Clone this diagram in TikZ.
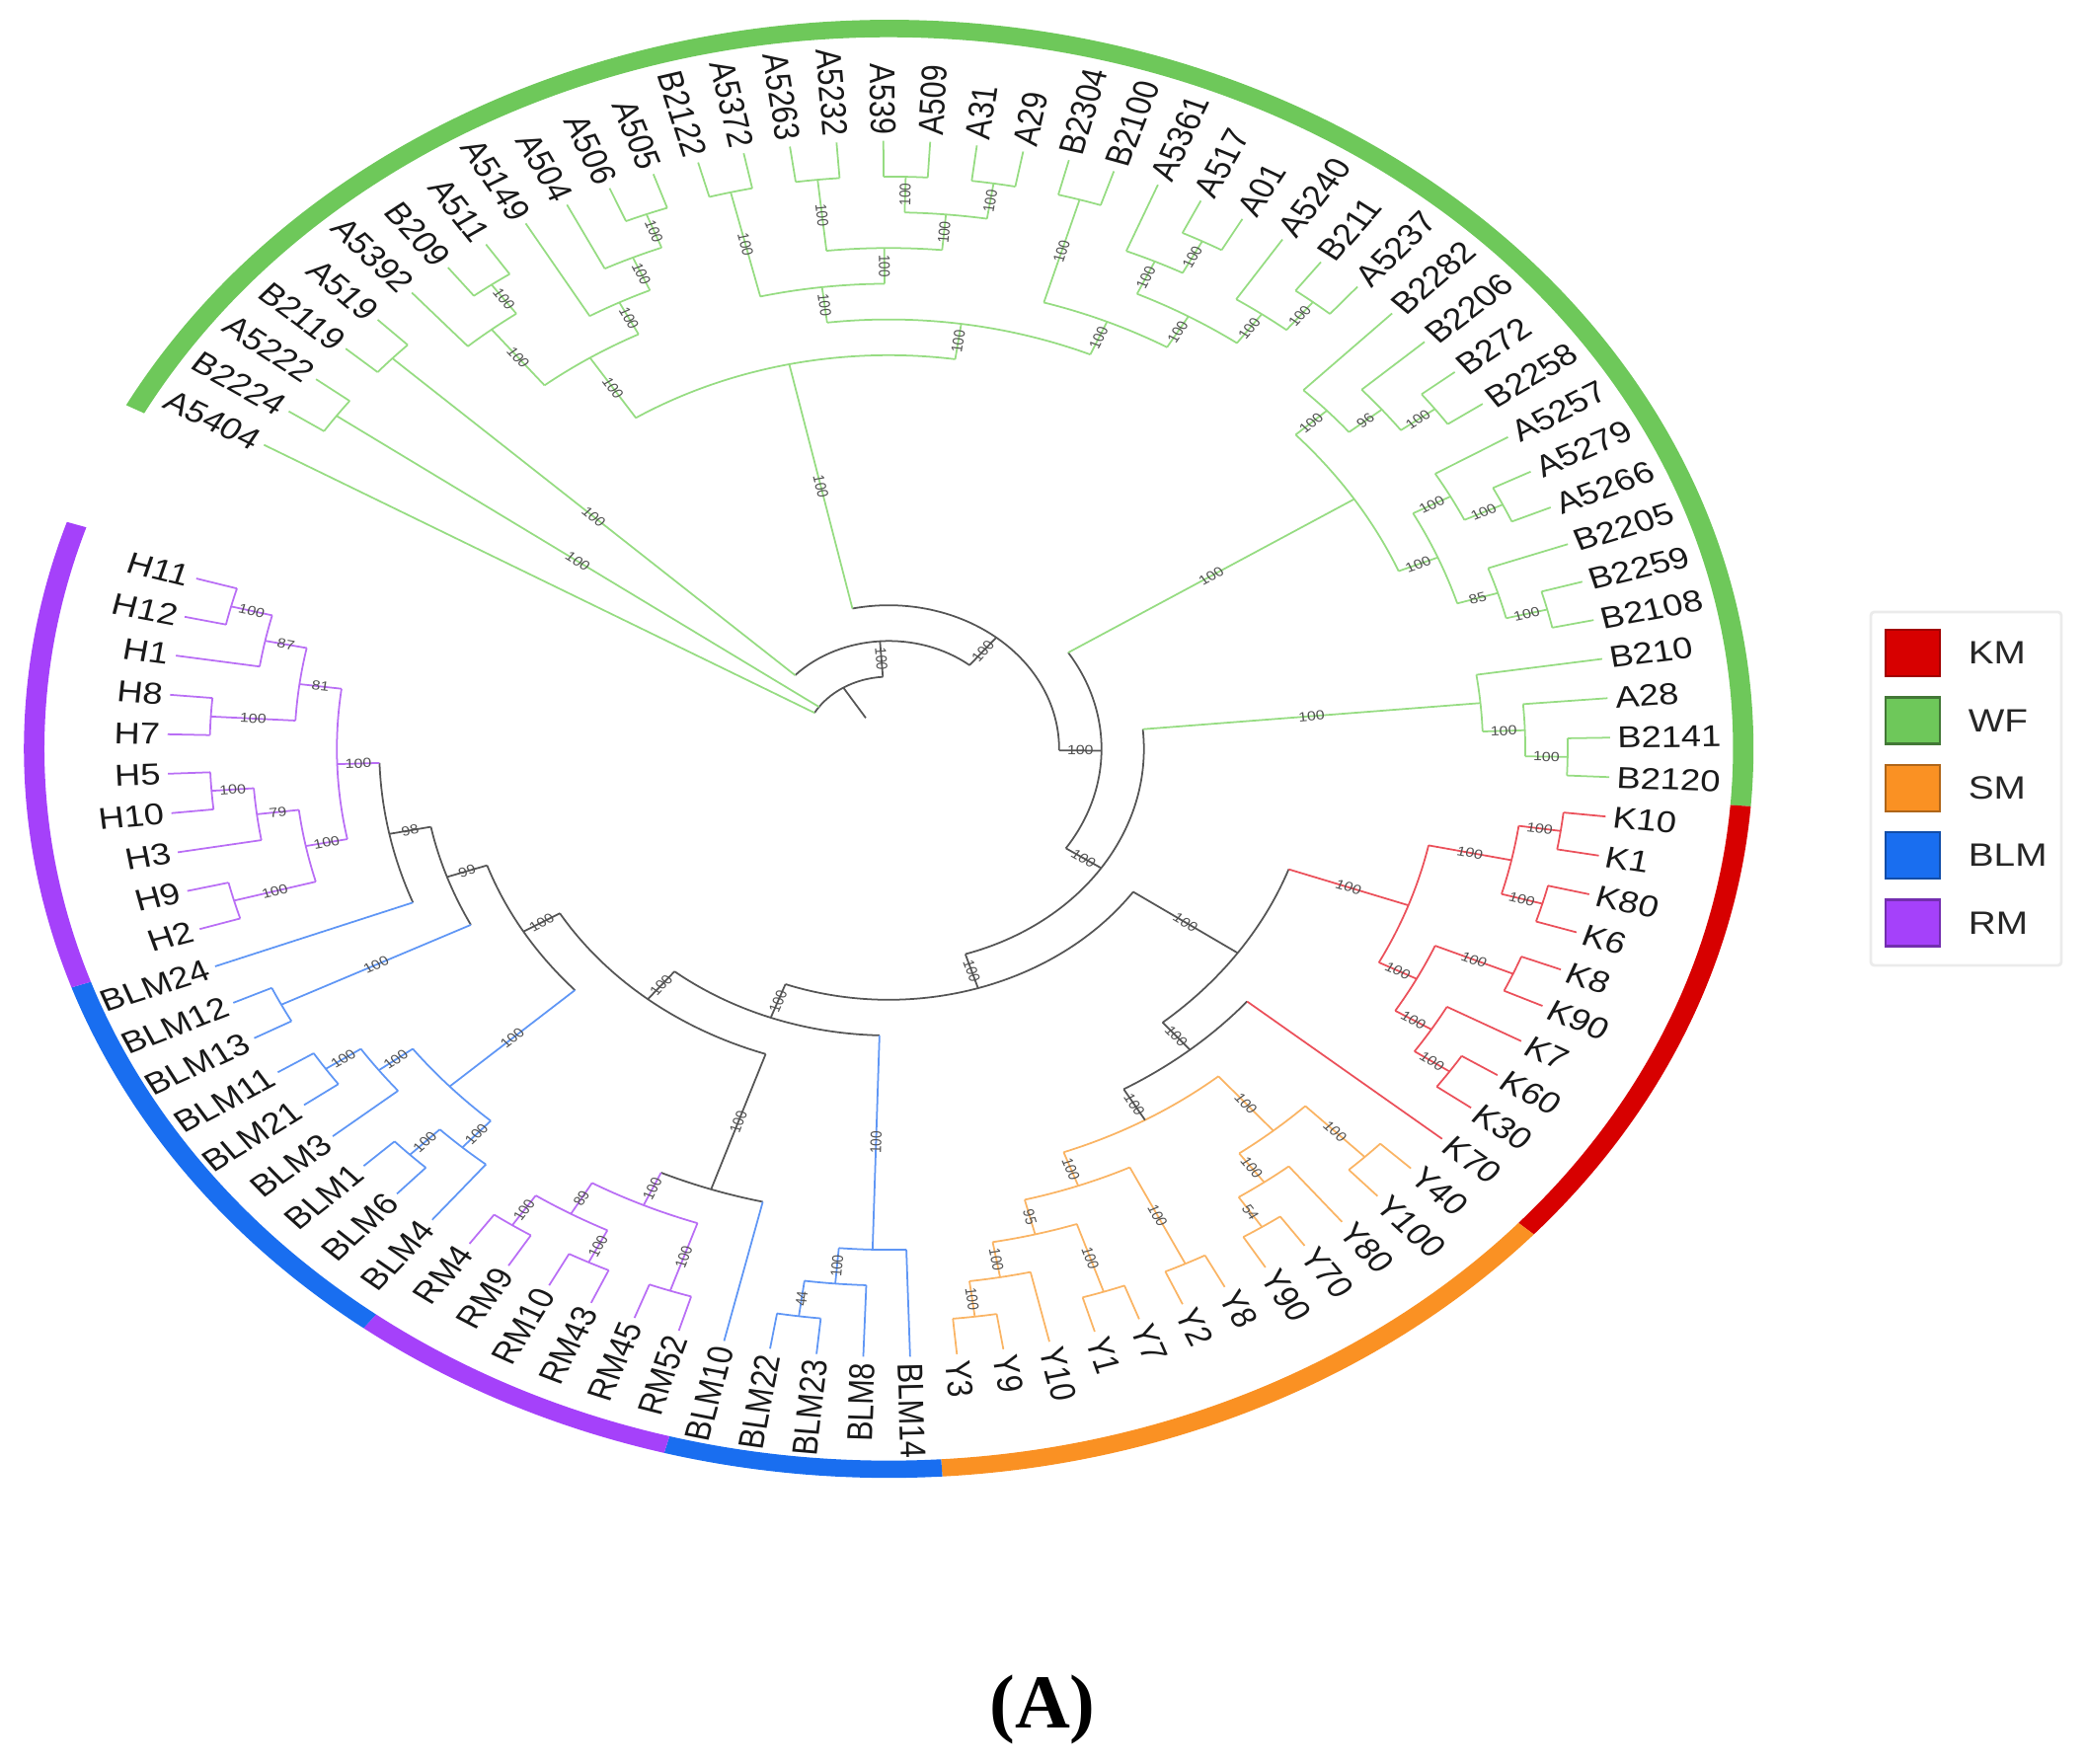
\documentclass[tikz,border=0pt]{standalone}
\usepackage{fontspec}
\setmainfont{Liberation Sans}
\newfontfamily\capfont{Liberation Serif}
\definecolor{wfb}{RGB}{150,220,130}
\definecolor{kmb}{RGB}{235,80,90}
\definecolor{smb}{RGB}{250,180,100}
\definecolor{blmb}{RGB}{95,150,245}
\definecolor{rmb}{RGB}{185,110,245}
\definecolor{grb}{RGB}{85,85,85}
\definecolor{wfr}{RGB}{110,200,90}
\definecolor{kmr}{RGB}{215,0,0}
\definecolor{smr}{RGB}{250,145,35}
\definecolor{blmr}{RGB}{25,110,240}
\definecolor{rmr}{RGB}{165,65,250}
\definecolor{labc}{RGB}{25,25,25}
\definecolor{supc}{RGB}{80,80,80}
\newcommand\RLnum{6.16}
\newcommand\dstep{0.3619}
\newcommand\RLab{6.20}
\newcommand\Rout{7.385cm}
\newcommand\Rin{7.21cm}
\newcommand\setnode[5]{%
 \expandafter\xdef\csname a@#1\endcsname{#2}%
 \expandafter\xdef\csname r@#1\endcsname{#3}%
 \expandafter\xdef\csname c@#1\endcsname{#4}%
 \expandafter\xdef\csname s@#1\endcsname{#5}}
\newcommand\leaf[3]{%
 \pgfmathsetmacro\Tang{150-3.7234*#2}%
 \setnode{#1}{\Tang}{\RLnum}{#3}{}%
 \pgfmathtruncatemacro\Tflip{(\Tang>90 || \Tang<-90) ? 1 : 0}%
 \ifnum\Tflip=1
   \pgfmathsetmacro\Trot{\Tang+180}%
   \node[leaflab, anchor=east, rotate=\Trot] (#1) at (\Tang:\RLab cm) {#1};%
 \else
   \node[leaflab, anchor=west, rotate=\Tang] (#1) at (\Tang:\RLab cm) {#1};%
 \fi}
\newcommand\stem[2]{%
 \pgfmathsetmacro\Sa{\csname a@#1\endcsname}%
 \pgfmathsetmacro\Sr{\csname r@#1\endcsname}%
 \edef\Scol{\csname c@#1\endcsname}%
 \edef\Ssup{\csname s@#1\endcsname}%
 \draw[br, \Scol] (\Sa:#2 cm) -- (\Sa:\Sr cm);%
 \ifx\Ssup\empty\else
   \pgfmathsetmacro\Sm{(#2+\Sr)/2}%
   \pgfmathtruncatemacro\Sflip{(\Sa>90 || \Sa<-90) ? 1 : 0}%
   \ifnum\Sflip=1 \pgfmathsetmacro\Srot{\Sa+180}\else\pgfmathsetmacro\Srot{\Sa}\fi
   \node[sup, rotate=\Srot] (sup-#1) at (\Sa:\Sm cm) {\Ssup};%
 \fi}
\newcommand\inode[7]{%
 \pgfmathsetmacro\Ia{\csname a@#2\endcsname}%
 \pgfmathsetmacro\Ib{\csname a@#3\endcsname}%
 \pgfmathsetmacro\Im{(\Ia+\Ib)/2}%
 \pgfmathsetmacro\Ir{\RLnum-\dstep*#4}%
 \draw[br, #5] (\Ia:\Ir cm) arc[start angle=\Ia, end angle=\Ib, radius=\Ir cm];%
 \stem{#2}{\Ir}\stem{#3}{\Ir}%
 \coordinate (#1) at (\Im:\Ir cm);%
 \setnode{#1}{\Im}{\Ir}{#6}{#7}}
\newcommand\ringseg[3]{%
 \fill[#3] (#1:\Rout) arc[start angle=#1, end angle=#2, radius=\Rout] -- (#2:\Rin) arc[start angle=#2, end angle=#1, radius=\Rin] -- cycle;}
\tikzset{
 br/.style={line width=0.5pt},
 leaflab/.style={font=\fontsize{8.7}{10}\selectfont, text=labc, inner sep=0.5pt, transform shape},
 sup/.style={font=\fontsize{3.8}{4}\selectfont, text=supc, inner sep=0pt, transform shape},
 legsq/.style={minimum width=0.55cm, minimum height=0.47cm, inner sep=0pt, line width=0.6pt},
 legtext/.style={font=\fontsize{9.3}{10}\selectfont, text=black!85, anchor=west, xscale=1.186, inner sep=0pt},
}
\begin{document}
\begin{tikzpicture}
\useasboundingbox (0,0) rectangle (21.13,17.87);
\begin{scope}[shift={(9.002,10.283)}, xscale=1.1862]
% colour ring
\ringseg{151.86}{-4.52}{wfr}
\ringseg{-4.52}{-41.76}{kmr}
\ringseg{-41.76}{-86.44}{smr}
\ringseg{-86.44}{-105.05}{blmr}
\ringseg{-105.05}{-127.39}{rmr}
\ringseg{-127.39}{-160.90}{blmr}
\ringseg{-160.90}{-198.14}{rmr}
% leaves
\leaf{A5404}{0}{wfb}\leaf{B2224}{1}{wfb}\leaf{A5222}{2}{wfb}\leaf{B2119}{3}{wfb}
\leaf{A519}{4}{wfb}\leaf{A5392}{5}{wfb}\leaf{B209}{6}{wfb}\leaf{A511}{7}{wfb}
\leaf{A5149}{8}{wfb}\leaf{A504}{9}{wfb}\leaf{A506}{10}{wfb}\leaf{A505}{11}{wfb}
\leaf{B2122}{12}{wfb}\leaf{A5372}{13}{wfb}\leaf{A5263}{14}{wfb}\leaf{A5232}{15}{wfb}
\leaf{A539}{16}{wfb}\leaf{A509}{17}{wfb}\leaf{A31}{18}{wfb}\leaf{A29}{19}{wfb}
\leaf{B2304}{20}{wfb}\leaf{B2100}{21}{wfb}\leaf{A5361}{22}{wfb}\leaf{A517}{23}{wfb}
\leaf{A01}{24}{wfb}\leaf{A5240}{25}{wfb}\leaf{B211}{26}{wfb}\leaf{A5237}{27}{wfb}
\leaf{B2282}{28}{wfb}\leaf{B2206}{29}{wfb}\leaf{B272}{30}{wfb}\leaf{B2258}{31}{wfb}
\leaf{A5257}{32}{wfb}\leaf{A5279}{33}{wfb}\leaf{A5266}{34}{wfb}\leaf{B2205}{35}{wfb}
\leaf{B2259}{36}{wfb}\leaf{B2108}{37}{wfb}\leaf{B210}{38}{wfb}\leaf{A28}{39}{wfb}
\leaf{B2141}{40}{wfb}\leaf{B2120}{41}{wfb}
\leaf{K10}{42}{kmb}\leaf{K1}{43}{kmb}\leaf{K80}{44}{kmb}\leaf{K6}{45}{kmb}
\leaf{K8}{46}{kmb}\leaf{K90}{47}{kmb}\leaf{K7}{48}{kmb}\leaf{K60}{49}{kmb}
\leaf{K30}{50}{kmb}\leaf{K70}{51}{kmb}
\leaf{Y40}{52}{smb}\leaf{Y100}{53}{smb}\leaf{Y80}{54}{smb}\leaf{Y70}{55}{smb}
\leaf{Y90}{56}{smb}\leaf{Y8}{57}{smb}\leaf{Y2}{58}{smb}\leaf{Y7}{59}{smb}
\leaf{Y1}{60}{smb}\leaf{Y10}{61}{smb}\leaf{Y9}{62}{smb}\leaf{Y3}{63}{smb}
\leaf{BLM14}{64}{blmb}\leaf{BLM8}{65}{blmb}\leaf{BLM23}{66}{blmb}\leaf{BLM22}{67}{blmb}
\leaf{BLM10}{68}{blmb}
\leaf{RM52}{69}{rmb}\leaf{RM45}{70}{rmb}\leaf{RM43}{71}{rmb}\leaf{RM10}{72}{rmb}
\leaf{RM9}{73}{rmb}\leaf{RM4}{74}{rmb}
\leaf{BLM4}{75}{blmb}\leaf{BLM6}{76}{blmb}\leaf{BLM1}{77}{blmb}\leaf{BLM3}{78}{blmb}
\leaf{BLM21}{79}{blmb}\leaf{BLM11}{80}{blmb}\leaf{BLM13}{81}{blmb}\leaf{BLM12}{82}{blmb}
\leaf{BLM24}{83}{blmb}
\leaf{H2}{84}{rmb}\leaf{H9}{85}{rmb}\leaf{H3}{86}{rmb}\leaf{H10}{87}{rmb}
\leaf{H5}{88}{rmb}\leaf{H7}{89}{rmb}\leaf{H8}{90}{rmb}\leaf{H1}{91}{rmb}
\leaf{H12}{92}{rmb}\leaf{H11}{93}{rmb}
% WF clades
\inode{n1}{B2224}{A5222}{1}{wfb}{wfb}{100}
\inode{n2}{B2119}{A519}{1}{wfb}{wfb}{100}
\inode{n3}{B209}{A511}{1}{wfb}{wfb}{100}
\inode{n4}{A5392}{n3}{2}{wfb}{wfb}{100}
\inode{n5}{A506}{A505}{1}{wfb}{wfb}{100}
\inode{n6}{A504}{n5}{2}{wfb}{wfb}{100}
\inode{n7}{A5149}{n6}{3}{wfb}{wfb}{100}
\inode{n8}{n4}{n7}{4}{wfb}{wfb}{100}
\inode{n9}{B2122}{A5372}{1}{wfb}{wfb}{100}
\inode{n10}{A5263}{A5232}{1}{wfb}{wfb}{100}
\inode{n11}{A539}{A509}{1}{wfb}{wfb}{100}
\inode{n12}{A31}{A29}{1}{wfb}{wfb}{100}
\inode{n13}{n11}{n12}{2}{wfb}{wfb}{100}
\inode{n14}{n10}{n13}{3}{wfb}{wfb}{100}
\inode{n15}{n9}{n14}{4}{wfb}{wfb}{100}
\inode{n17}{B2304}{B2100}{1}{wfb}{wfb}{100}
\inode{n18}{A517}{A01}{1}{wfb}{wfb}{100}
\inode{n19}{A5361}{n18}{2}{wfb}{wfb}{100}
\inode{n20}{B211}{A5237}{1}{wfb}{wfb}{100}
\inode{n21}{A5240}{n20}{2}{wfb}{wfb}{100}
\inode{n22}{n19}{n21}{3}{wfb}{wfb}{100}
\inode{n23}{n17}{n22}{4}{wfb}{wfb}{100}
\inode{n24}{n15}{n23}{5}{wfb}{wfb}{100}
\inode{T}{n8}{n24}{6}{wfb}{wfb}{100}
\inode{n25}{B272}{B2258}{1}{wfb}{wfb}{100}
\inode{n26}{B2206}{n25}{2}{wfb}{wfb}{96}
\inode{n27}{B2282}{n26}{3}{wfb}{wfb}{100}
\inode{n28}{A5279}{A5266}{1}{wfb}{wfb}{100}
\inode{n29}{A5257}{n28}{2}{wfb}{wfb}{100}
\inode{n30}{B2259}{B2108}{1}{wfb}{wfb}{100}
\inode{n31}{B2205}{n30}{2}{wfb}{wfb}{85}
\inode{n32}{n29}{n31}{3}{wfb}{wfb}{100}
\inode{n33}{n27}{n32}{4}{wfb}{wfb}{100}
\inode{n34}{B2141}{B2120}{1}{wfb}{wfb}{100}
\inode{n35}{A28}{n34}{2}{wfb}{wfb}{100}
\inode{n36}{B210}{n35}{3}{wfb}{wfb}{100}
% KM
\inode{k1}{K10}{K1}{1}{kmb}{kmb}{100}
\inode{k2}{K80}{K6}{1}{kmb}{kmb}{100}
\inode{k3}{k1}{k2}{2}{kmb}{kmb}{100}
\inode{k4}{K8}{K90}{1}{kmb}{kmb}{100}
\inode{k5}{K60}{K30}{1}{kmb}{kmb}{100}
\inode{k6}{K7}{k5}{2}{kmb}{kmb}{100}
\inode{k7}{k4}{k6}{3}{kmb}{kmb}{100}
\inode{Kc}{k3}{k7}{4}{kmb}{kmb}{100}
% SM
\inode{s1}{Y40}{Y100}{1}{smb}{smb}{100}
\inode{s2}{Y70}{Y90}{1}{smb}{smb}{54}
\inode{s3}{Y80}{s2}{2}{smb}{smb}{100}
\inode{s4}{s1}{s3}{3}{smb}{smb}{100}
\inode{s5}{Y8}{Y2}{1}{smb}{smb}{100}
\inode{s6}{Y7}{Y1}{1}{smb}{smb}{100}
\inode{s7}{Y9}{Y3}{1}{smb}{smb}{100}
\inode{s8}{Y10}{s7}{2}{smb}{smb}{100}
\inode{s9}{s6}{s8}{3}{smb}{smb}{95}
\inode{s10}{s5}{s9}{4}{smb}{smb}{100}
\inode{s11}{s4}{s10}{5}{smb}{grb}{100}
\inode{S1}{K70}{s11}{6}{grb}{grb}{100}
\inode{KS}{Kc}{S1}{7}{grb}{grb}{100}
% BLM / RM
\inode{g1}{BLM23}{BLM22}{1}{blmb}{blmb}{44}
\inode{g2}{BLM8}{g1}{2}{blmb}{blmb}{100}
\inode{g3}{BLM14}{g2}{3}{blmb}{blmb}{100}
\inode{r1}{RM52}{RM45}{1}{rmb}{rmb}{100}
\inode{r2}{RM43}{RM10}{1}{rmb}{rmb}{100}
\inode{r3}{RM9}{RM4}{1}{rmb}{rmb}{100}
\inode{r4}{r2}{r3}{2}{rmb}{rmb}{89}
\inode{RMc}{r1}{r4}{3}{rmb}{rmb}{100}
\inode{BR}{BLM10}{RMc}{4}{grb}{grb}{100}
\inode{b1}{BLM6}{BLM1}{1}{blmb}{blmb}{100}
\inode{b2}{BLM4}{b1}{2}{blmb}{blmb}{100}
\inode{b3}{BLM21}{BLM11}{1}{blmb}{blmb}{100}
\inode{b4}{BLM3}{b3}{2}{blmb}{blmb}{100}
\inode{b5}{b2}{b4}{3}{blmb}{blmb}{100}
\inode{b6}{BLM13}{BLM12}{1}{blmb}{blmb}{100}
\inode{h7}{H2}{H9}{1}{rmb}{rmb}{100}
\inode{h5}{H10}{H5}{1}{rmb}{rmb}{100}
\inode{h6}{H3}{h5}{2}{rmb}{rmb}{79}
\inode{h8}{h7}{h6}{3}{rmb}{rmb}{100}
\inode{h3}{H7}{H8}{1}{rmb}{rmb}{100}
\inode{h1}{H12}{H11}{1}{rmb}{rmb}{100}
\inode{h2}{H1}{h1}{2}{rmb}{rmb}{87}
\inode{h4}{h3}{h2}{3}{rmb}{rmb}{81}
\inode{Hc}{h8}{h4}{4}{rmb}{rmb}{100}
% backbone
\inode{L1}{BLM24}{Hc}{5}{grb}{grb}{98}
\inode{L2}{b6}{L1}{6}{grb}{grb}{99}
\inode{L3}{b5}{L2}{7}{grb}{grb}{100}
\inode{L4}{BR}{L3}{8}{grb}{grb}{100}
\inode{L5}{g3}{L4}{9}{grb}{grb}{100}
\inode{Xt}{KS}{L5}{10}{grb}{grb}{100}
\inode{Xs}{n36}{Xt}{11}{grb}{grb}{100}
\inode{Xr}{n33}{Xs}{12}{grb}{grb}{100}
\inode{X}{T}{Xr}{13}{grb}{grb}{100}
\inode{Y}{n2}{X}{14}{grb}{grb}{100}
% root
\pgfmathsetmacro\Ia{\csname a@A5404\endcsname}
\pgfmathsetmacro\Ib{\csname a@Y\endcsname}
\pgfmathsetmacro\Im{(\Ia+\Ib)/2}
\pgfmathsetmacro\Ir{\RLnum-\dstep*15}
\pgfmathsetmacro\Is{\RLnum-\dstep*16}
\draw[br, grb] (\Ia:\Ir cm) arc[start angle=\Ia, end angle=\Ib, radius=\Ir cm];
\stem{A5404}{\Ir}\stem{n1}{\Ir}\stem{Y}{\Ir}
\coordinate (root) at (\Im:\Ir cm);
\coordinate (rootstub) at (\Im:\Is cm);
\draw[br, grb] (root) -- (rootstub);
\end{scope}
% legend
\draw[black!8, line width=0.8pt, rounded corners=1pt] (18.95,8.09) rectangle (20.88,11.67);
\node[legsq, fill=kmr, draw=kmr!75!black] (kmsq) at (19.375,11.255) {};
\node[legsq, fill=wfr, draw=wfr!60!black] (wfsq) at (19.375,10.57) {};
\node[legsq, fill=smr, draw=smr!70!black] (smsq) at (19.375,9.885) {};
\node[legsq, fill=blmr, draw=blmr!70!black] (blmsq) at (19.375,9.205) {};
\node[legsq, fill=rmr, draw=rmr!70!black] (rmsq) at (19.375,8.52) {};
\node[legtext] (kmt) at (19.93,11.255) {KM};
\node[legtext] (wft) at (19.93,10.57) {WF};
\node[legtext] (smt) at (19.93,9.885) {SM};
\node[legtext] (blmt) at (19.93,9.205) {BLM};
\node[legtext] (rmt) at (19.93,8.52) {RM};
% caption
\node[font=\capfont\bfseries\fontsize{22}{26}\selectfont, inner sep=0pt] (cap) at (10.56,0.55) {(A)};
\end{tikzpicture}
\end{document}
